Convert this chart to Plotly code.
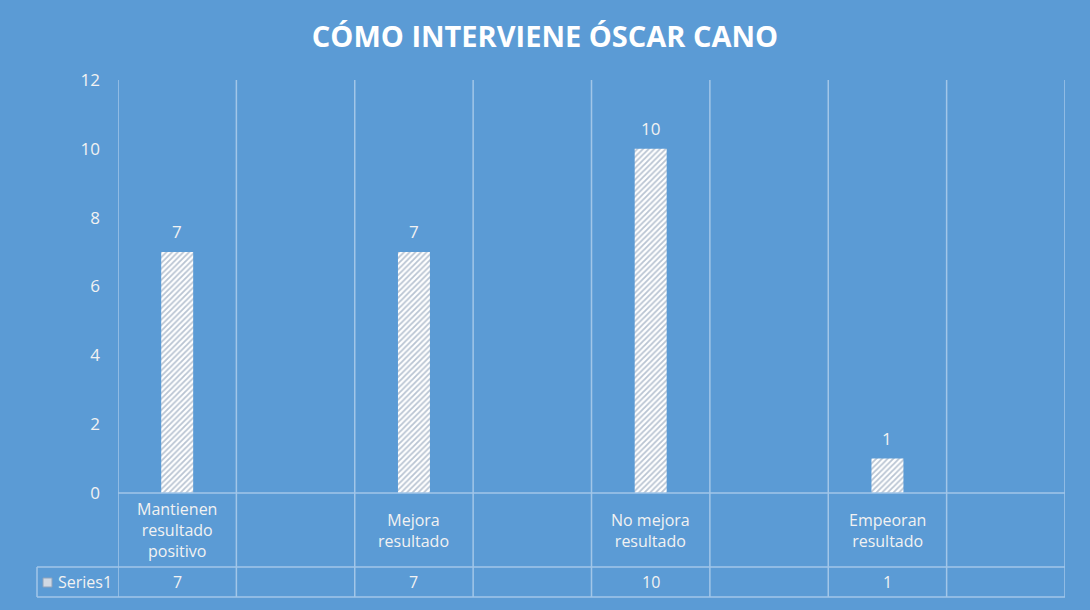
import plotly.graph_objects as go

# chart data (Excel-style column chart with a data table)
categories = ["Mantienen<br>resultado<br>positivo", "", "Mejora<br>resultado", "",
              "No mejora<br>resultado", "", "Empeoran<br>resultado", ""]
values = [7, None, 7, None, 10, None, 1, None]
series_name = "Series1"
title_text = "CÓMO INTERVIENE ÓSCAR CANO"
y_ticks = [0, 2, 4, 6, 8, 10, 12]

BG = "#5B9BD5"
GRID = "#A2C6E8"
TXT = "#F2F2F2"
FONT = "Open Sans"

W, H = 1090, 610
ML, MR, MT, MB = 118, 25, 80, 117
plot_h = H - MT - MB


def py(px):
    # pixel row -> paper y
    return (H - MB - px) / plot_h


def pxx(px):
    # pixel column -> paper x
    return (px - ML) / (W - ML - MR)


xs = list(range(len(categories)))

fig = go.Figure()
fig.add_trace(go.Bar(
    x=xs, y=values, name=series_name, width=0.27,
    marker=dict(color="white", line=dict(width=0),
                pattern=dict(shape="/", fgcolor="#7389A6", bgcolor="white", size=4, solidity=0.45)),
    showlegend=False, hoverinfo="skip",
))

shapes = []
# vertical lines at category boundaries, running down through the table
for i in range(len(categories) + 1):
    shapes.append(dict(type="line", xref="x", yref="paper", x0=i - 0.5, x1=i - 0.5,
                       y0=1, y1=py(597), line=dict(color=GRID, width=1.5)))
# table horizontals
shapes.append(dict(type="line", xref="paper", yref="paper", x0=0, x1=1, y0=0, y1=0,
                   line=dict(color=GRID, width=1.5)))
for row in (567, 597):
    shapes.append(dict(type="line", xref="paper", yref="paper", x0=pxx(37), x1=1,
                       y0=py(row), y1=py(row), line=dict(color=GRID, width=1.5)))
shapes.append(dict(type="line", xref="paper", yref="paper", x0=pxx(37), x1=pxx(37),
                   y0=py(567), y1=py(597), line=dict(color=GRID, width=1.5)))
# legend key square
shapes.append(dict(type="rect", xref="paper", yref="paper", x0=pxx(43), x1=pxx(52),
                   y0=py(587), y1=py(578), fillcolor="#D0D8E3", line=dict(color="#8FA3BC", width=1)))

annotations = []
# data labels above the bars
for x, v in zip(xs, values):
    if v is not None:
        annotations.append(dict(x=x, y=v, xref="x", yref="y", text=str(v), showarrow=False,
                                yanchor="bottom", yshift=7,
                                font=dict(family=FONT, size=17, color=TXT)))
# category row of the data table
for x, c in zip(xs, categories):
    if c:
        annotations.append(dict(x=x, y=py(530), xref="x", yref="paper", text=c, showarrow=False,
                                font=dict(family=FONT, size=16, color=TXT), align="center",
                                yanchor="middle"))
# value row of the data table
for x, v in zip(xs, values):
    if v is not None:
        annotations.append(dict(x=x, y=py(582), xref="x", yref="paper", text=str(v), showarrow=False,
                                font=dict(family=FONT, size=16, color=TXT), yanchor="middle"))
annotations.append(dict(x=pxx(56), y=py(582), xref="paper", yref="paper", text=series_name,
                        showarrow=False, xanchor="left", yanchor="middle",
                        font=dict(family=FONT, size=16, color=TXT)))

fig.update_layout(
    width=W, height=H,
    margin=dict(l=ML, r=MR, t=MT, b=MB),
    paper_bgcolor=BG, plot_bgcolor=BG,
    title=dict(text=title_text, x=0.5, xanchor="center", y=1 - 37 / H, yanchor="middle",
               font=dict(family=FONT, size=29, color="white", weight="bold")),
    xaxis=dict(range=[-0.5, len(categories) - 0.5], showgrid=False, showticklabels=False,
               zeroline=False, showline=False),
    yaxis=dict(range=[0, 12], tickvals=y_ticks, showgrid=False, zeroline=False, showline=False,
               ticks="", ticklabelstandoff=17, tickfont=dict(family=FONT, size=17, color=TXT)),
    shapes=shapes, annotations=annotations,
)

fig.write_html("out.html", config={"displayModeBar": False},
               post_script="document.body.style.margin='0';")
